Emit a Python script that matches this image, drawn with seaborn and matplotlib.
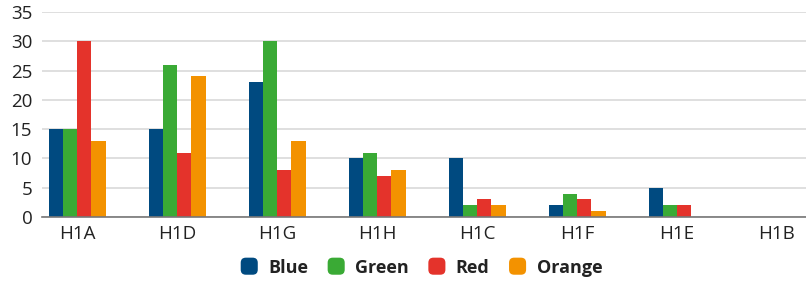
import matplotlib
matplotlib.use("Agg")
import matplotlib.pyplot as plt
import seaborn as sns
import pandas as pd
from matplotlib.patches import FancyBboxPatch
from matplotlib.legend_handler import HandlerPatch

categories = ["H1A", "H1D", "H1G", "H1H", "H1C", "H1F", "H1E", "H1B"]
series = ["Blue", "Green", "Red", "Orange"]
blue = [15, 15, 23, 10, 10, 2, 5, 0]
green = [15, 26, 30, 11, 2, 4, 2, 0]
red = [30, 11, 8, 7, 3, 3, 2, 0]
orange = [13, 24, 13, 8, 2, 1, 0, 0]
colors = ["#004a80", "#3aaa35", "#e4332b", "#f39200"]

rows = []
for name, vals in zip(series, [blue, green, red, orange]):
    for c, v in zip(categories, vals):
        rows.append({"cat": c, "series": name, "value": v})
df = pd.DataFrame(rows)

sns.set_theme(style="white")
plt.rcParams["font.family"] = ["Open Sans", "DejaVu Sans"]

fig = plt.figure(figsize=(8.06, 2.81), dpi=100)
ax = fig.add_axes([42/806, (281-217)/281, 1 - 42/806, (217-12)/281])

sns.barplot(data=df, x="cat", y="value", hue="series", palette=colors,
            order=categories, hue_order=series, width=0.57, ax=ax,
            saturation=1, legend=False, edgecolor="none", linewidth=0)

ax.set_ylim(0, 35)
ax.set_xlim(-0.35, 7.29)
ax.set_yticks(range(0, 36, 5))
ax.grid(axis="y", color="#d9d9d9", linewidth=1.2)
ax.set_axisbelow(True)
for s in ["top", "right", "left"]:
    ax.spines[s].set_visible(False)
ax.spines["bottom"].set_color("#777777")
ax.spines["bottom"].set_linewidth(1.2)
ax.tick_params(axis="both", length=0, labelsize=13.5, colors="#222222")
ax.tick_params(axis="x", pad=6)
ax.tick_params(axis="y", pad=7)
ax.set_xlabel("")
ax.set_ylabel("")

class RoundHandler(HandlerPatch):
    def create_artists(self, legend, orig_handle, xdescent, ydescent, width, height, fontsize, trans):
        s = height * 1.35
        p = FancyBboxPatch((xdescent + (width - s) / 2, ydescent + (height - s) / 2), s, s,
                           boxstyle="round,pad=0,rounding_size=%f" % (s * 0.3),
                           facecolor=orig_handle.get_facecolor(), edgecolor="none", transform=trans)
        return [p]

handles = [plt.Rectangle((0, 0), 1, 1, facecolor=c) for c in colors]
leg = fig.legend(handles, series, loc="center", bbox_to_anchor=(0.522, 0.048), ncol=4,
                 frameon=False, handler_map={plt.Rectangle: RoundHandler()},
                 prop={"weight": "bold", "size": 13}, handlelength=1.1, handletextpad=0.5,
                 columnspacing=1.0)
for t in leg.get_texts():
    t.set_color("#222222")

fig.savefig("out.png", dpi=100)
